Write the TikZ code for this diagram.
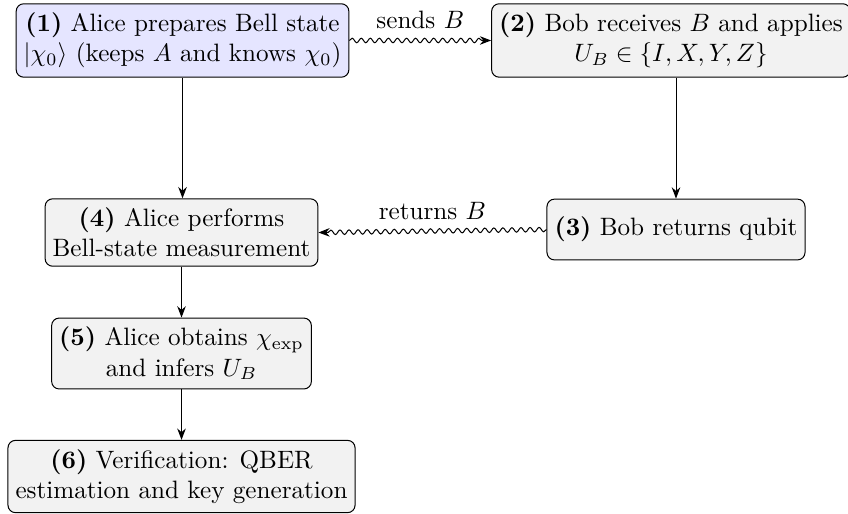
\documentclass[tikz,border=0pt]{standalone}
\usepackage{amsmath}
\usetikzlibrary{positioning,decorations.pathmorphing,arrows.meta}

\tikzset{
  stepnode/.style={draw, rounded corners=3pt, fill=gray!10, align=center, inner xsep=3pt, inner ysep=3.6pt, minimum height=0.85cm},
  alicenode/.style={stepnode, fill=blue!10},
  flow/.style={-{Stealth[length=4.5pt,width=3.4pt]}},
  qsend/.style={-{Stealth[length=4.5pt,width=3.4pt]}, decorate, decoration={snake, amplitude=0.9pt, segment length=3.6pt, post length=3pt}}
}

\begin{document}
\begin{tikzpicture}
\useasboundingbox (0,0) rectangle (11.852,-7.170);
% nodes
\node[alicenode] (s1) at (2.551,-0.566) {\textbf{(1)} Alice prepares Bell state\\$|\chi_0\rangle$ (keeps $A$ and knows $\chi_0$)};
\node[stepnode] (s2) at (9.378,-0.566) {\textbf{(2)} Bob receives $B$ and applies\\$U_B\in\{I,X,Y,Z\}$};
\node[stepnode] (s3) at (9.448,-3.208) {\textbf{(3)} Bob returns qubit};
\node[stepnode] (s4) at (2.537,-3.250) {\textbf{(4)} Alice performs\\Bell-state measurement};
\node[stepnode] (s5) at (2.537,-4.941) {\textbf{(5)} Alice obtains $\chi_{\text{exp}}$\\and infers $U_B$};
\node[stepnode] (s6) at (2.537,-6.660) {\textbf{(6)} Verification: QBER\\estimation and key generation};
% arrows
\draw[qsend] (s1.east) -- node[above=1pt] {sends $B$} (s2.west);
\draw[flow] (s2.south -| s3.north) -- (s3.north);
\draw[qsend] (s3.west) -- node[above=1pt] {returns $B$} (s4.east);
\draw[flow] (s1.south) -- (s1.south |- s4.north);
\draw[flow] (s4.south -| s5.north) -- (s5.north);
\draw[flow] (s5.south) -- (s6.north);
\end{tikzpicture}
\end{document}
